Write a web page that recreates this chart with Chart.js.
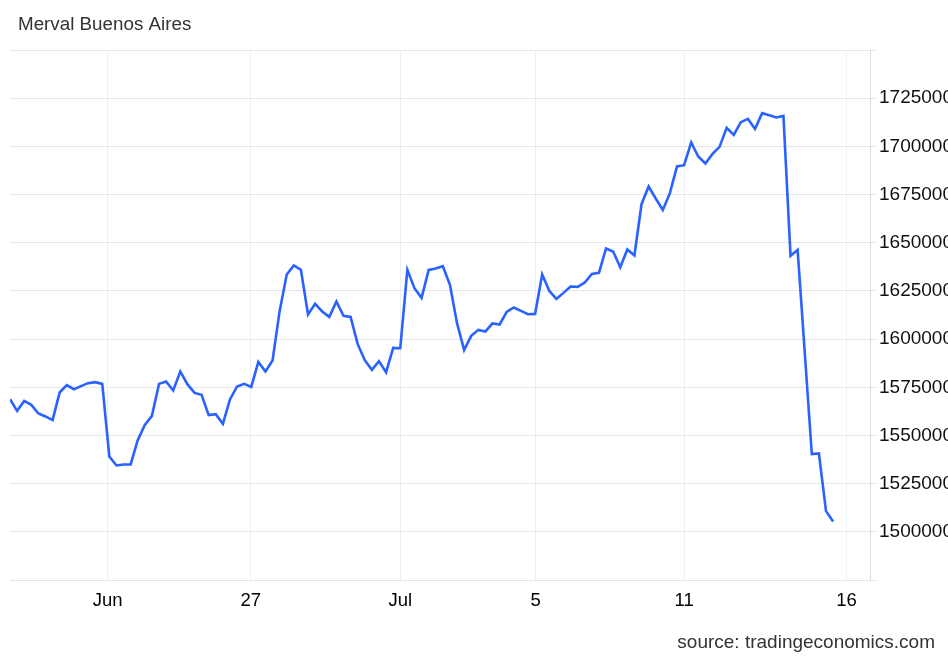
<!DOCTYPE html>
<html lang="en">

<head>
    <meta charset="UTF-8" />
    <title>Merval Buenos Aires</title>
    <script src="https://cdn.jsdelivr.net/npm/chart.js"></script>
    <style>
        html, body {
            margin: 0;
            padding: 0;
            background: #ffffff;
            overflow: hidden;
        }

        #chart {
            display: block;
        }
    </style>
</head>

<body>
    <canvas id="chart" width="960" height="657"></canvas>

    <script>
        // index values (112 is not visible as its own point)
        const values = [
            1568800, 1562760, 1567940, 1565870, 1561400, 1559850, 1557930, 1572300, 1576090, 1574010,
            1575570, 1577130, 1577650, 1576760, 1539100, 1534430, 1534950, 1534950, 1547560, 1555490,
            1560160, 1576760, 1578010, 1573340, 1583200, 1576610, 1572090, 1571060, 1560530, 1561040,
            1556010, 1568700, 1575420, 1576760, 1575210, 1588180, 1583200, 1588900, 1614480, 1633520,
            1638190, 1635910, 1612770, 1618270, 1614320, 1611520, 1619510, 1612040, 1611520, 1597360,
            1589060, 1584030, 1588540, 1582680, 1595440, 1595280, 1635910, 1626410, 1621380, 1635910,
            1636630, 1637830, 1628130, 1608260, 1594250, 1601670, 1604780, 1603950, 1608100, 1607580,
            1614120, 1616400, 1614640, 1612920, 1613080, 1633520, 1625010, 1620860, 1623970, 1627300,
            1627090, 1629370, 1633830, 1634350, 1647010, 1645450, 1637310, 1646490, 1643380, 1669990,
            1679180, 1672950, 1667030, 1675700, 1689570, 1690240, 1702020, 1694750, 1691120, 1696100,
            1699730, 1709590, 1705960, 1712550, 1714260, 1709070, 1717220, 1716180, 1714990, 1715820,
            1643190, 1646300, null, 1540310, 1540670, 1510740, 1505390
        ];

        const xTickPositions = [13.77, 33.92, 55.0, 74.07, 95.01, 117.9];
        const xTickLabels = ["Jun", "27", "Jul", "5", "11", "16"];

        const yTickValues = [1475000, 1500000, 1525000, 1550000, 1575000, 1600000,
            1625000, 1650000, 1675000, 1700000, 1725000, 1750000];
        const yTickLabels = ["", "1500000", "1525000", "1550000", "1575000", "1600000",
            "1625000", "1650000", "1675000", "1700000", "1725000", ""];

        const titleText = "Merval Buenos Aires";
        const sourceText = "source: tradingeconomics.com";

        Chart.defaults.font.family = "'Liberation Sans', Arial, sans-serif";

        // title top left, source bottom right
        const captions = {
            id: "captions",
            afterDraw(chart) {
                const ctx = chart.ctx;
                ctx.save();
                ctx.fillStyle = "#333333";
                ctx.textBaseline = "middle";
                ctx.font = "18.8px 'Liberation Sans', Arial, sans-serif";
                ctx.textAlign = "left";
                ctx.fillText(titleText, 18, 25);
                ctx.font = "19px 'Liberation Sans', Arial, sans-serif";
                ctx.textAlign = "right";
                ctx.fillText(sourceText, 935, 643);
                ctx.restore();
            }
        };

        new Chart(document.getElementById("chart"), {
            type: "line",
            data: {
                datasets: [{
                    data: values.map((v, i) => ({ x: i, y: v })),
                    borderColor: "#2962ff",
                    borderWidth: 2.6,
                    pointRadius: 0,
                    tension: 0,
                    spanGaps: true,
                    fill: false
                }]
            },
            options: {
                responsive: false,
                animation: false,
                layout: { padding: { top: 50, left: 10, right: 0, bottom: 0 } },
                plugins: {
                    legend: { display: false },
                    tooltip: { enabled: false }
                },
                scales: {
                    x: {
                        type: "linear",
                        min: 0,
                        max: 121.2,
                        afterBuildTicks: (s) => { s.ticks = xTickPositions.map(v => ({ value: v })); },
                        afterFit: (s) => { s.height = 77; },
                        ticks: {
                            autoSkip: false,
                            maxRotation: 0,
                            padding: 10,
                            color: "#000000",
                            font: { size: 18.5 },
                            callback: (v, i) => xTickLabels[i]
                        },
                        grid: { color: "#edf1f6", drawTicks: false },
                        border: { color: "#e3e3e3" }
                    },
                    y: {
                        position: "right",
                        min: 1475000,
                        max: 1750000,
                        afterBuildTicks: (s) => { s.ticks = yTickValues.map(v => ({ value: v })); },
                        afterFit: (s) => { s.width = 90; },
                        ticks: {
                            padding: 3,
                            color: "#111111",
                            font: { size: 19 },
                            callback: (v, i) => yTickLabels[i]
                        },
                        grid: { color: "#e6e6e6", tickLength: 6 },
                        border: { color: "#dddddd" }
                    }
                }
            },
            plugins: [captions]
        });
    </script>
</body>

</html>
